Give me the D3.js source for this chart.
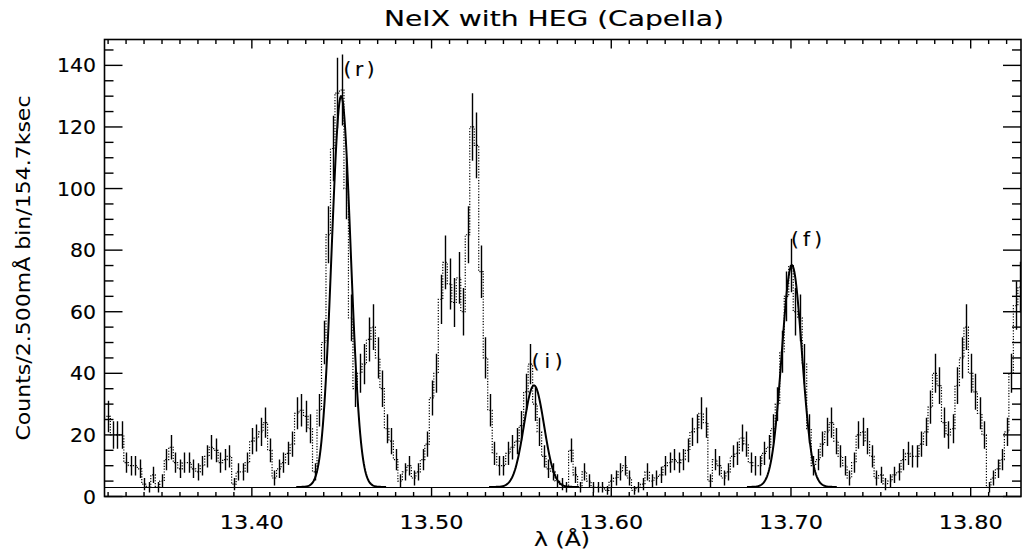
<!DOCTYPE html>
<html>
<head>
<meta charset="utf-8">
<script src="https://d3js.org/d3.v7.min.js"></script>
<style>
  body { margin: 0; background: #fff; }
  text { font-family: "DejaVu Sans", sans-serif; fill: #000; stroke: #000; stroke-width: 0.15px; }
</style>
</head>
<body>
<div class="canvas"></div>
<script>
// Config
var width = 1024,
    height = 550,
    plotL = 104.5, plotR = 1021, plotT = 39.5, plotB = 496.5;

// Data: HEG counts per 2.5 mA bin, first bin centred at 13.320 A
var binStart = 13.32,
    binWidth = 0.0025;
var counts = [
  26, 20, 20, 20, 11, 10, 10, 9, 4, 3, 7, 3, 5, 12, 16, 11, 9, 11, 11, 9,
  8, 10, 13, 16, 15, 11, 12, 13, 4, 8, 8, 11, 18, 19, 21, 24, 15, 6, 9, 11,
  14, 17, 27, 28, 26, 22, 8, 28, 50, 85, 113, 131, 132, 100, 58, 35, 40, 43, 51, 55,
  45, 35, 22, 18, 12, 5, 8, 10, 6, 8, 12, 17, 32, 40, 64, 76, 69, 63, 71, 60,
  85, 120, 114, 73, 45, 28, 14, 10, 10, 14, 16, 18, 23, 34, 43, 30, 21, 13, 9, 8,
  5, 4, 3, 15, 7, 3, 8, 5, 3, 3, 3, 2, 5, 6, 8, 10, 6, 2, 3, 4,
  8, 5, 6, 7, 10, 11, 12, 11, 12, 15, 21, 22, 27, 24, 5, 12, 10, 6, 8, 13,
  14, 19, 17, 11, 10, 10, 14, 16, 22, 30, 47, 65, 75, 60, 58, 43, 22, 10, 12, 17,
  21, 24, 18, 13, 10, 6, 11, 20, 21, 18, 13, 6, 7, 4, 5, 7, 8, 12, 14, 13,
  13, 17, 21, 29, 40, 36, 24, 20, 22, 36, 45, 55, 40, 34, 27, 20, 3, 6, 9, 12,
  21, 40, 62, 68
];

// Fitted lines
var lineNames = ['(r)', '(i)', '(f)'],
    lineCenters = [13.4497, 13.557, 13.7005],
    lineAmps = [127, 33, 72],
    lineSigma = [0.0053, 0.0056, 0.0056],
    continuum = 3.1,
    labelWl = [13.451, 13.5557, 13.700],
    labelY = [136.4, 41.7, 81.3];

var xMajor = [13.40, 13.50, 13.60, 13.70, 13.80],
    yMajor = [0, 20, 40, 60, 80, 100, 120, 140];

var x = d3.scaleLinear().domain([13.318, 13.828]).range([plotL, plotR]),
    y = d3.scaleLinear().domain([0, 148.4]).range([plotB, plotT]);

var bins = counts.map(function (c, i) { return {wl: binStart + i*binWidth, c: c}; });

var svg = d3.select('.canvas').append('svg')
    .attr('width', width)
    .attr('height', height);

svg.append('clipPath').attr('id', 'plot')
  .append('rect')
    .attr('x', plotL).attr('y', plotT)
    .attr('width', plotR - plotL).attr('height', plotB - plotT);

var g = svg.append('g').attr('clip-path', 'url(#plot)');

// Dotted histogram
var step = d3.line()
    .x(function (d) { return x(d.wl); })
    .y(function (d) { return y(d.c); })
    .curve(d3.curveStep);

var histo = [{wl: binStart - binWidth, c: counts[0]}].concat(bins, [{wl: binStart + counts.length*binWidth, c: counts[counts.length - 1]}]);

g.append('path')
    .attr('d', step(histo))
    .attr('fill', 'none')
    .attr('stroke', '#000')
    .attr('stroke-width', 1.2)
    .attr('stroke-dasharray', '1.2,1.6');

// Poisson error bars
g.selectAll('line.err')
    .data(bins)
    .enter()
    .append('line')
    .attr('class', 'err')
    .attr('x1', function (d) { return Math.round(x(d.wl)) + 0.5; })
    .attr('x2', function (d) { return Math.round(x(d.wl)) + 0.5; })
    .attr('y1', function (d) { return y(d.c - Math.sqrt(d.c)); })
    .attr('y2', function (d) { return y(d.c + Math.sqrt(d.c)); })
    .attr('stroke', '#000')
    .attr('stroke-width', 1.4);

// Continuum
g.append('line')
    .attr('x1', plotL).attr('x2', plotR)
    .attr('y1', Math.round(y(continuum)) + 0.5).attr('y2', Math.round(y(continuum)) + 0.5)
    .attr('stroke', '#000')
    .attr('stroke-width', 1);

// Gaussian model lines
function model(w) {
  var v = continuum;
  lineCenters.forEach(function (c, i) {
    v += lineAmps[i]*Math.exp(-0.5*Math.pow((w - c)/lineSigma[i], 2));
  });
  return v;
}

lineCenters.forEach(function (c) {
  var pts = d3.range(c - 0.025, c + 0.025, 0.0004).map(function (w) { return {wl: w, c: model(w)}; });
  g.append('path')
      .attr('d', d3.line().x(function (d) { return x(d.wl); }).y(function (d) { return y(d.c); })(pts))
      .attr('fill', 'none')
      .attr('stroke', '#000')
      .attr('stroke-width', 2);
});

// Line labels
svg.selectAll('text.lab')
    .data(lineNames)
    .enter()
    .append('text')
    .attr('class', 'lab')
    .attr('x', function (d, i) { return x(labelWl[i]); })
    .attr('y', function (d, i) { return y(labelY[i]); })
    .attr('textLength', 31)
    .attr('lengthAdjust', 'spacing')
    .style('font-size', '20px')
    .text(function (d) { return d; });

// Frame and ticks
svg.append('rect')
    .attr('x', plotL).attr('y', plotT)
    .attr('width', plotR - plotL).attr('height', plotB - plotT)
    .attr('fill', 'none')
    .attr('stroke', '#000')
    .attr('stroke-width', 1.6);

var xMinor = d3.range(13.32, 13.83, 0.01),
    yMinor = d3.range(0, 148, 5);

var ticks = svg.append('g').attr('stroke', '#000').attr('stroke-width', 1.4);

xMinor.forEach(function (v) {
  var major = xMajor.some(function (m) { return Math.abs(m - v) < 1e-6; }),
      len = major ? 9 : 4.5;
  ticks.append('line').attr('x1', x(v)).attr('x2', x(v)).attr('y1', plotB).attr('y2', plotB - len);
  ticks.append('line').attr('x1', x(v)).attr('x2', x(v)).attr('y1', plotT).attr('y2', plotT + len);
});

yMinor.forEach(function (v) {
  var len = v % 20 === 0 ? 18 : 9;
  ticks.append('line').attr('x1', plotL).attr('x2', plotL + len).attr('y1', y(v)).attr('y2', y(v));
  ticks.append('line').attr('x1', plotR).attr('x2', plotR - len).attr('y1', y(v)).attr('y2', y(v));
});

// Tick labels
svg.selectAll('text.xt')
    .data(xMajor)
    .enter()
    .append('text')
    .attr('x', function (d) { return x(d); })
    .attr('y', 529)
    .attr('text-anchor', 'middle')
    .attr('textLength', 64)
    .attr('lengthAdjust', 'spacingAndGlyphs')
    .style('font-size', '19px')
    .text(function (d) { return d.toFixed(2); });

svg.selectAll('text.yt')
    .data(yMajor)
    .enter()
    .append('text')
    .attr('x', 96)
    .attr('y', function (d) { return y(d) + 7; })
    .attr('text-anchor', 'end')
    .attr('textLength', function (d) { return String(d).length*13; })
    .attr('lengthAdjust', 'spacingAndGlyphs')
    .style('font-size', '19px')
    .text(function (d) { return d; });

// Titles
svg.append('text')
    .attr('x', 554).attr('y', 26)
    .attr('text-anchor', 'middle')
    .attr('textLength', 340)
    .attr('lengthAdjust', 'spacingAndGlyphs')
    .style('font-size', '21px')
    .text('NeIX with HEG (Capella)');

svg.append('text')
    .attr('x', 562).attr('y', 546)
    .attr('text-anchor', 'middle')
    .attr('textLength', 56)
    .attr('lengthAdjust', 'spacingAndGlyphs')
    .style('font-size', '20px')
    .text('λ (Å)');

svg.append('text')
    .attr('transform', 'translate(30,268) rotate(-90)')
    .attr('text-anchor', 'middle')
    .attr('textLength', 345)
    .attr('lengthAdjust', 'spacingAndGlyphs')
    .style('font-size', '19px')
    .style('stroke-width', '0px')
    .text('Counts/2.500mÅ bin/154.7ksec');
</script>
</body>
</html>
